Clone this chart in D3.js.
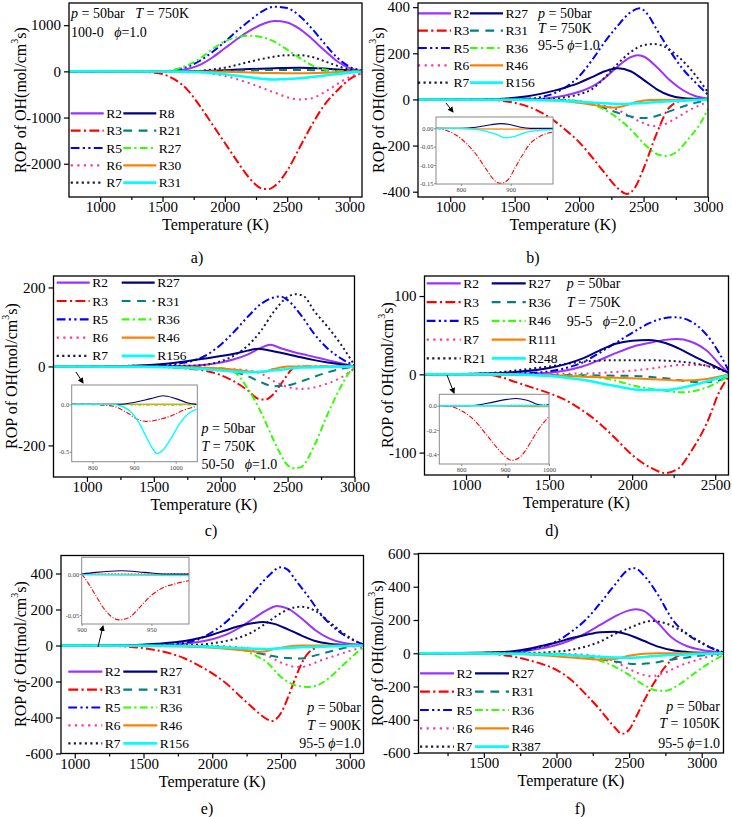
<!DOCTYPE html>
<html>
<head>
<meta charset="utf-8">
<script src="https://cdn.jsdelivr.net/npm/d3@7"></script>
<style>
  body { margin: 0; background: #fff; }
  svg { font-family: "Liberation Serif", "Times New Roman", Times, serif; }
</style>
</head>
<body>
<svg id="chart" width="732" height="817"></svg>
<script>
// ---- data: [temperature K, ROP] ----

// panel a) 100-0, phi=1.0, T=750K
const aLabels = ["R2", "R3", "R5", "R6", "R7", "R8", "R21", "R27", "R30", "R31"];
const aR2 = [[750,0],[1500,0],[1600,10],[1700,50],[1800,140],[1900,300],[2000,500],[2100,700],[2200,880],[2300,1020],[2400,1090],[2500,1060],[2600,920],[2700,700],[2800,450],[2900,220],[3000,70],[3100,15]];
const aR3 = [[750,0],[1300,-5],[1400,-20],[1500,-60],[1600,-180],[1700,-400],[1800,-750],[1900,-1150],[2000,-1550],[2100,-1950],[2200,-2320],[2300,-2540],[2350,-2550],[2400,-2480],[2500,-2150],[2600,-1650],[2700,-1150],[2800,-720],[2900,-420],[3000,-170],[3100,-40]];
const aR5 = [[750,0],[1500,0],[1600,30],[1700,100],[1800,230],[1900,420],[2000,640],[2100,880],[2200,1100],[2300,1300],[2400,1400],[2500,1370],[2600,1200],[2700,920],[2800,600],[2900,300],[3000,100],[3100,20]];
const aR6 = [[750,0],[1700,-5],[1800,-20],[1900,-50],[2000,-100],[2100,-170],[2200,-260],[2300,-360],[2400,-460],[2500,-560],[2600,-610],[2700,-580],[2800,-450],[2900,-280],[3000,-120],[3100,-40]];
const aR7 = [[750,0],[1700,3],[1800,10],[1900,40],[2000,80],[2100,140],[2200,210],[2300,270],[2400,320],[2500,350],[2600,350],[2700,310],[2800,220],[2900,120],[3000,40],[3100,10]];
const aR8 = [[750,0],[1700,5],[1900,15],[2000,25],[2200,50],[2400,70],[2600,80],[2800,60],[3000,20],[3100,5]];
const aR21 = [[750,0],[1800,3],[2000,10],[2200,20],[2400,30],[2600,30],[2800,20],[3000,5],[3100,0]];
const aR27 = [[750,0],[1500,0],[1600,40],[1700,130],[1800,280],[1900,480],[2000,650],[2100,740],[2200,770],[2300,740],[2400,640],[2500,470],[2600,290],[2700,130],[2800,40],[2900,10],[3000,0],[3100,0]];
const aR30 = [[750,0],[1800,-3],[2000,-10],[2200,-25],[2400,-38],[2600,-40],[2800,-30],[3000,-10],[3100,-3]];
const aR31 = [[750,0],[1500,-5],[1800,-20],[2000,-60],[2200,-130],[2400,-175],[2600,-150],[2800,-90],[3000,-30],[3100,-10]];

// panel b) 95-5, phi=1.0, T=750K
const bLabels = ["R2", "R3", "R5", "R6", "R7", "R27", "R31", "R36", "R46", "R156"];
const bR2 = [[750,0],[1700,2],[1800,8],[1900,18],[2000,33],[2100,55],[2200,93],[2300,143],[2400,183],[2450,192],[2500,186],[2600,142],[2700,85],[2800,42],[2900,15],[3000,4]];
const bR3 = [[750,0],[1250,0],[1400,-6],[1500,-15],[1600,-30],[1700,-55],[1800,-90],[1900,-135],[2000,-185],[2100,-250],[2200,-320],[2300,-385],[2370,-410],[2430,-385],[2500,-300],[2600,-150],[2700,-35],[2800,-5],[3000,0]];
const bR5 = [[750,0],[1600,3],[1700,10],[1800,25],[1900,55],[2000,100],[2100,170],[2200,250],[2300,320],[2400,378],[2470,395],[2530,370],[2600,305],[2700,215],[2800,135],[2900,75],[3000,20]];
const bR6 = [[750,0],[1800,-2],[2000,-8],[2100,-15],[2200,-28],[2300,-45],[2400,-75],[2500,-103],[2570,-115],[2650,-110],[2750,-82],[2850,-48],[2950,-22],[3000,-12]];
const bR7 = [[750,0],[1800,3],[1900,10],[2000,22],[2100,45],[2200,95],[2300,155],[2400,205],[2500,235],[2580,240],[2650,232],[2750,195],[2850,140],[2950,70],[3000,30]];
const bR27 = [[750,0],[1300,1],[1500,7],[1600,14],[1700,24],[1800,37],[1900,53],[2000,72],[2100,97],[2200,122],[2300,135],[2400,122],[2500,85],[2600,45],[2700,18],[2800,6],[3000,0]];
const bR31 = [[750,0],[1900,-3],[2000,-10],[2100,-20],[2200,-38],[2300,-58],[2400,-74],[2500,-81],[2600,-72],[2700,-52],[2800,-32],[2900,-15],[3000,-4]];
const bR36 = [[750,0],[1900,-3],[2000,-10],[2100,-22],[2200,-45],[2300,-82],[2400,-130],[2500,-190],[2600,-236],[2670,-245],[2750,-230],[2850,-170],[2950,-95],[3000,-40]];
const bR46 = [[750,0],[1700,-2],[1900,-8],[2000,-15],[2100,-23],[2200,-31],[2270,-35],[2350,-28],[2450,-10],[2550,-2],[3000,0]];
const bR156 = [[750,0],[1500,-1],[1800,-5],[2000,-10],[2200,-17],[2350,-20],[2500,-15],[2700,-8],[2900,-3],[3000,0]];
// inset b
const bInR3 = [[750,0],[770,-0.005],[790,-0.018],[810,-0.04],[830,-0.07],[850,-0.11],[870,-0.145],[880,-0.15],[895,-0.14],[910,-0.105],[925,-0.07],[940,-0.04],[955,-0.025],[970,-0.015],[985,-0.01]];
const bInR27 = [[750,0],[800,0],[830,0.003],[860,0.01],[880,0.013],[900,0.01],[920,0.003],[940,0],[985,0]];
const bInR156 = [[750,0],[800,0],[840,-0.005],[870,-0.016],[890,-0.026],[910,-0.021],[930,-0.011],[960,-0.005],[985,-0.003]];
const bInR46 = [[750,0],[800,-0.001],[900,-0.002],[985,-0.001]];

// panel c) 50-50, phi=1.0, T=750K
const cLabels = ["R2", "R3", "R5", "R6", "R7", "R27", "R31", "R36", "R46", "R156"];
const cR2 = [[750,0],[1700,1],[1900,5],[2000,10],[2100,18],[2200,30],[2300,47],[2370,55],[2450,46],[2550,36],[2650,28],[2750,20],[2850,12],[2950,4],[3000,0]];
const cR3 = [[750,0],[1500,-1],[1700,-4],[1900,-12],[2000,-22],[2100,-38],[2200,-60],[2280,-82],[2330,-84],[2400,-68],[2470,-35],[2540,-5],[2600,0],[3000,0]];
const cR5 = [[750,0],[1600,3],[1700,8],[1800,15],[1900,30],[2000,55],[2100,88],[2200,125],[2300,158],[2400,175],[2450,177],[2500,168],[2600,130],[2700,82],[2800,45],[2900,20],[3000,2]];
const cR6 = [[750,0],[1700,-1],[2000,-6],[2200,-10],[2300,-18],[2400,-38],[2500,-52],[2600,-57],[2700,-53],[2800,-43],[2900,-28],[3000,-5]];
const cR7 = [[750,0],[1800,2],[1900,5],[2000,13],[2100,28],[2200,52],[2300,90],[2400,140],[2500,176],[2560,183],[2620,178],[2700,140],[2800,100],[2900,55],[3000,3]];
const cR27 = [[750,0],[1300,1],[1500,4],[1700,11],[1900,21],[2100,32],[2200,40],[2280,45],[2400,38],[2500,31],[2600,23],[2700,16],[2800,10],[2900,5],[3000,0]];
const cR31 = [[750,0],[1800,-2],[2000,-8],[2100,-14],[2200,-24],[2300,-40],[2400,-50],[2500,-48],[2600,-38],[2700,-26],[2800,-15],[2900,-6],[3000,0]];
const cR36 = [[750,0],[2000,-4],[2100,-14],[2200,-55],[2300,-115],[2400,-190],[2500,-250],[2550,-258],[2600,-255],[2700,-200],[2800,-120],[2900,-50],[2950,-20],[3000,-3]];
const cR46 = [[750,0],[1300,0],[2000,-5],[2200,-12],[2300,-15],[2400,-6],[2500,0],[3000,0]];
const cR156 = [[750,0],[1400,-1],[1800,-5],[2000,-10],[2200,-15],[2400,-10],[2600,-3],[3000,0]];
// inset c
const cInR156 = [[750,0],[850,0],[870,-0.02],[890,-0.07],[910,-0.18],[930,-0.35],[945,-0.47],[955,-0.52],[970,-0.48],[990,-0.35],[1010,-0.2],[1030,-0.1],[1050,-0.05]];
const cInR3 = [[750,0],[800,-0.003],[850,-0.02],[880,-0.08],[910,-0.16],[930,-0.18],[960,-0.16],[990,-0.12],[1020,-0.06],[1050,-0.02]];
const cInR27 = [[750,0],[860,0],[900,0.02],[940,0.06],[970,0.09],[1000,0.06],[1030,0.015],[1050,0]];
const cInR36 = [[750,0],[870,-0.003],[950,-0.01],[1050,-0.005]];
const cInR46 = [[750,0],[1050,0.002]];

// panel d) 95-5, phi=2.0, T=750K
const dLabels = ["R2", "R3", "R5", "R7", "R21", "R27", "R36", "R46", "R111", "R248"];
const dR2 = [[750,0],[1400,1],[1600,5],[1700,10],[1800,18],[1900,27],[2000,35],[2100,40],[2200,44],[2270,45],[2350,42],[2450,30],[2530,12],[2580,2]];
const dR3 = [[750,0],[1100,0],[1200,-3],[1300,-10],[1400,-17],[1500,-24],[1600,-33],[1700,-46],[1800,-62],[1900,-82],[2000,-103],[2100,-118],[2200,-126],[2280,-120],[2350,-100],[2450,-62],[2530,-20],[2580,-3]];
const dR5 = [[750,0],[1400,2],[1600,8],[1700,15],[1800,27],[1900,40],[2000,53],[2100,65],[2200,72],[2260,73],[2350,68],[2450,50],[2530,25],[2580,5]];
const dR7 = [[750,0],[1700,1],[1900,3],[2100,7],[2200,10],[2300,12],[2400,12],[2500,9],[2580,5]];
const dR21 = [[750,0],[1100,1],[1300,5],[1500,10],[1700,16],[1900,18],[2100,18],[2300,16],[2400,13],[2500,8],[2580,2]];
const dR27 = [[750,0],[1100,1],[1300,3],[1500,8],[1600,13],[1700,20],[1800,30],[1900,39],[2000,43],[2100,44],[2200,40],[2300,31],[2400,20],[2500,10],[2580,2]];
const dR36 = [[750,0],[2000,-2],[2200,-5],[2400,-10],[2500,-9],[2580,-2]];
const dR46 = [[750,0],[1700,-2],[1900,-8],[2000,-14],[2100,-18],[2200,-21],[2300,-23],[2400,-20],[2500,-12],[2580,-2]];
const dR111 = [[750,0],[1400,-1],[1700,-3],[2000,-5],[2200,-7],[2300,-8],[2450,-6],[2580,0]];
const dR248 = [[750,0],[1200,0],[1500,-2],[1700,-7],[1900,-15],[2050,-20],[2200,-20],[2300,-17],[2400,-12],[2500,-6],[2580,-1]];
// inset d
const dInR3 = [[760,0],[780,-0.01],[800,-0.04],[830,-0.12],[860,-0.25],[890,-0.38],[915,-0.45],[935,-0.42],[955,-0.32],[975,-0.2],[1000,-0.09]];
const dInR27 = [[750,0],[820,0],[860,0.02],[900,0.05],[925,0.06],[950,0.045],[975,0.01],[990,0.002],[1000,0.01]];
const dInR111 = [[750,0],[850,0],[900,-0.005],[1000,-0.008]];
const dInR21 = [[750,0],[850,0.001],[1000,0.005]];
const dInR248 = [[750,0],[1000,0]];

// panel e) 95-5, phi=1.0, T=900K
const eLabels = ["R2", "R3", "R5", "R6", "R7", "R27", "R31", "R36", "R46", "R156"];
const eR2 = [[900,0],[1700,3],[1800,10],[1900,20],[2000,35],[2100,60],[2200,100],[2300,150],[2400,198],[2470,220],[2550,205],[2650,150],[2750,85],[2850,40],[2950,15],[3100,3]];
const eR3 = [[900,0],[1300,-3],[1500,-15],[1700,-45],[1800,-72],[1900,-110],[2000,-155],[2100,-210],[2200,-280],[2300,-350],[2400,-410],[2430,-420],[2500,-375],[2550,-290],[2600,-190],[2650,-100],[2700,-40],[2800,-5],[3100,0]];
const eR5 = [[900,0],[1700,5],[1800,15],[1900,35],[2000,75],[2100,130],[2200,210],[2300,295],[2400,380],[2500,435],[2550,420],[2600,370],[2700,270],[2800,165],[2900,90],[3000,40],[3100,5]];
const eR6 = [[900,0],[2000,-3],[2200,-10],[2300,-25],[2400,-55],[2500,-95],[2600,-118],[2650,-120],[2700,-110],[2800,-80],[2900,-55],[3000,-30],[3100,-10]];
const eR7 = [[900,0],[1900,5],[2000,12],[2100,25],[2200,45],[2300,78],[2400,128],[2500,180],[2600,212],[2650,215],[2750,192],[2850,132],[2950,70],[3050,22],[3100,5]];
const eR27 = [[900,0],[1400,2],[1600,10],[1800,25],[1900,40],[2000,60],[2100,85],[2200,108],[2300,125],[2370,130],[2450,120],[2550,90],[2650,55],[2750,25],[2850,10],[3000,2]];
const eR31 = [[900,0],[2000,-5],[2200,-20],[2350,-45],[2450,-60],[2550,-70],[2650,-72],[2750,-55],[2850,-35],[2950,-15],[3050,-3]];
const eR36 = [[900,0],[2000,-5],[2200,-20],[2300,-50],[2400,-95],[2500,-175],[2600,-220],[2700,-230],[2750,-225],[2850,-180],[2950,-110],[3050,-40],[3100,-10]];
const eR46 = [[900,0],[1800,-5],[2000,-12],[2200,-25],[2350,-35],[2450,-20],[2550,-5],[2650,0],[3100,0]];
const eR156 = [[900,0],[1700,-2],[2000,-8],[2300,-18],[2400,-20],[2500,-15],[2700,-8],[3000,-2],[3100,0]];
// inset e
const eInR3 = [[900,0],[905,-0.012],[910,-0.026],[915,-0.04],[920,-0.05],[927,-0.056],[935,-0.052],[942,-0.04],[950,-0.026],[958,-0.017],[967,-0.012],[977,-0.008]];
const eInR27 = [[900,0],[910,0.002],[928,0.004],[945,0.002],[960,0],[977,0]];
const eInR156 = [[900,-0.001],[977,-0.002]];
const eInR46 = [[900,0],[977,-0.0005]];
const eInR6 = [[900,0],[977,0.0005]];

// panel f) 95-5, phi=1.0, T=1050K
const fLabels = ["R2", "R3", "R5", "R6", "R7", "R27", "R31", "R36", "R46", "R387"];
const fR2 = [[1050,0],[1700,5],[1800,15],[1900,30],[2000,50],[2100,80],[2200,120],[2300,170],[2400,220],[2500,258],[2550,265],[2600,255],[2700,180],[2800,90],[2900,42],[3000,20],[3150,5]];
const fR3 = [[1050,0],[1500,-3],[1600,-8],[1700,-20],[1800,-40],[1900,-65],[2000,-100],[2100,-160],[2200,-245],[2300,-340],[2400,-445],[2450,-485],[2500,-460],[2550,-380],[2600,-290],[2700,-140],[2800,-35],[2900,-3],[3150,0]];
const fR5 = [[1050,0],[1600,3],[1800,20],[1900,40],[2000,72],[2100,128],[2200,200],[2300,300],[2400,410],[2500,505],[2540,512],[2600,470],[2700,350],[2800,200],[2900,115],[3000,60],[3100,20],[3150,5]];
const fR6 = [[1050,0],[2100,-5],[2300,-20],[2400,-50],[2500,-95],[2600,-130],[2650,-138],[2750,-115],[2850,-75],[2950,-45],[3050,-20],[3150,-5]];
const fR7 = [[1050,0],[1800,2],[2000,10],[2100,20],[2200,40],[2300,70],[2400,115],[2500,152],[2600,185],[2650,195],[2750,180],[2850,140],[2950,90],[3050,40],[3150,5]];
const fR27 = [[1050,0],[1500,3],[1700,12],[1800,25],[1900,45],[2000,65],[2100,90],[2200,110],[2300,127],[2400,130],[2500,110],[2600,75],[2700,40],[2800,18],[2900,8],[3000,3],[3150,0]];
const fR31 = [[1050,0],[2000,-5],[2200,-20],[2400,-50],[2550,-65],[2650,-60],[2750,-45],[2900,-25],[3050,-8],[3150,-2]];
const fR36 = [[1050,0],[2000,-3],[2100,-10],[2200,-25],[2300,-45],[2400,-80],[2500,-130],[2600,-190],[2700,-225],[2750,-225],[2850,-185],[2950,-120],[3050,-60],[3150,-10]];
const fR46 = [[1050,0],[1600,-2],[1900,-12],[2100,-25],[2300,-38],[2400,-35],[2500,-15],[2600,-3],[2700,0],[3150,0]];
const fR387 = [[1050,0],[1500,-2],[1800,-5],[2100,-12],[2400,-25],[2500,-27],[2700,-15],[3000,-4],[3150,0]];

// tick values
const xTicks = [1000, 1500, 2000, 2500, 3000];
const xMinor = [750, 1250, 1750, 2250, 2750];
const aYTicks = [1000, 0, -1000, -2000];
const bYTicks = [400, 200, 0, -200, -400];
const cYTicks = [200, 0, -200];
const dYTicks = [100, 0, -100];
const eYTicks = [400, 200, 0, -200, -400, -600];
const fYTicks = [600, 400, 200, 0, -200, -400, -600];

// line styles in legend order: column 1 rows 1-5, then column 2 rows 1-5
const styles = [
  { c: "#9933ff", dash: null, w: 2 },
  { c: "#ff0000", dash: "9,3,2,3", w: 2 },
  { c: "#0000ff", dash: "8,3,2,3,2,3", w: 2 },
  { c: "#ff3399", dash: "2,4", w: 2 },
  { c: "#1a1a44", dash: "2,3", w: 2 },
  { c: "#000080", dash: null, w: 2 },
  { c: "#008080", dash: "8,6", w: 2 },
  { c: "#33ff00", dash: "7,3,2,3", w: 2 },
  { c: "#ff8000", dash: null, w: 2 },
  { c: "#00ffff", dash: null, w: 2.5 }
];

const FONT = "Liberation Serif, Times New Roman, Times, serif";
const NB = "\u00a0";   // keeps the wide gaps in the notes
const svg = d3.select("#chart");
const defs = svg.append("defs");
defs.append("marker")
  .attr("id", "arrow")
  .attr("viewBox", "0 0 6 6")
  .attr("refX", 5).attr("refY", 3)
  .attr("markerWidth", 6).attr("markerHeight", 6)
  .attr("orient", "auto")
  .append("path").attr("d", "M0,0L6,3L0,6z").attr("fill", "#000");

function styleLine(sel, st, scale) {
  sel.attr("fill", "none")
    .attr("stroke", st.c)
    .attr("stroke-width", st.w * scale)
    .attr("stroke-dasharray", st.dash ? st.dash.split(",").map(v => v * scale).join(",") : null);
}

function drawPanel(p) {
  const g = svg.append("g").attr("class", "panel-" + p.id).attr("font-family", FONT);
  const x = d3.scaleLinear().domain(p.xd).range([p.x0, p.x1]);
  const y = d3.scaleLinear().domain(p.yd).range([p.y1, p.y0]);

  defs.append("clipPath").attr("id", "clip-" + p.id)
    .append("rect").attr("x", p.x0).attr("y", p.y0)
    .attr("width", p.x1 - p.x0).attr("height", p.y1 - p.y0);

  const line = d3.line().x(d => x(d[0])).y(d => y(d[1])).curve(d3.curveMonotoneX);
  const plot = g.append("g").attr("clip-path", "url(#clip-" + p.id + ")");
  p.series.forEach((s, i) => {
    plot.append("path").attr("d", line(s)).call(styleLine, styles[i], 1);
  });

  // inset
  if (p.inset) {
    const ins = p.inset;
    const ix = d3.scaleLinear().domain(ins.xd).range([ins.x0, ins.x1]);
    const iy = d3.scaleLinear().domain(ins.yd).range([ins.y1, ins.y0]);
    const ig = g.append("g");
    ig.append("rect").attr("x", ins.x0).attr("y", ins.y0)
      .attr("width", ins.x1 - ins.x0).attr("height", ins.y1 - ins.y0)
      .attr("fill", "#fff");
    defs.append("clipPath").attr("id", "iclip-" + p.id)
      .append("rect").attr("x", ins.x0).attr("y", ins.y0)
      .attr("width", ins.x1 - ins.x0).attr("height", ins.y1 - ins.y0);
    const il = d3.line().x(d => ix(d[0])).y(d => iy(d[1])).curve(d3.curveMonotoneX);
    const ip = ig.append("g").attr("clip-path", "url(#iclip-" + p.id + ")");
    ins.series.forEach(s => {
      ip.append("path").attr("d", il(s.d)).call(styleLine, styles[s.k], 0.55);
    });
    ig.append("rect").attr("x", ins.x0).attr("y", ins.y0)
      .attr("width", ins.x1 - ins.x0).attr("height", ins.y1 - ins.y0)
      .attr("fill", "none").attr("stroke", "#8a8a8a").attr("stroke-width", 1);
    const ixa = ig.append("g").attr("transform", `translate(0,${ins.y1})`)
      .call(d3.axisBottom(ix).tickValues(ins.xt).tickSize(2).tickSizeOuter(0).tickFormat(d => String(d)));
    const iya = ig.append("g").attr("transform", `translate(${ins.x0},0)`)
      .call(d3.axisLeft(iy).tickValues(ins.yt).tickSize(2).tickSizeOuter(0).tickFormat((d, i) => ins.ytl[i]));
    [ixa, iya].forEach(a => {
      a.select(".domain").remove();
      a.selectAll("line").attr("stroke", "#8a8a8a");
      a.selectAll("text").attr("font-size", 6.5).attr("fill", "#444").attr("font-family", FONT);
    });
    iya.selectAll("text").attr("x", -2.5);
    ixa.selectAll("text").attr("y", 3.5);
    g.append("line")
      .attr("x1", ins.arrow[0]).attr("y1", ins.arrow[1])
      .attr("x2", ins.arrow[2]).attr("y2", ins.arrow[3])
      .attr("stroke", "#000").attr("stroke-width", 1)
      .attr("marker-end", "url(#arrow)");
  }

  // legend
  const lg = g.append("g");
  p.labels.forEach((lab, i) => {
    const col = i < 5 ? 0 : 1;
    const row = i % 5;
    const ly = p.leg.y + row * p.leg.dy;
    const lx = p.leg.x[col];
    lg.append("line").attr("x1", lx).attr("x2", lx + p.leg.w)
      .attr("y1", ly).attr("y2", ly).call(styleLine, styles[i], 1.1);
    lg.append("text").attr("x", lx + p.leg.w + 2.5).attr("y", ly)
      .attr("dominant-baseline", "central")
      .attr("font-size", 13.5).text(lab);
  });

  // annotation
  const ag = g.append("g").attr("font-size", 14).attr("text-anchor", p.note.anchor);
  p.note.lines.forEach((ln, i) => {
    const t = ag.append("text").attr("x", p.note.x).attr("y", p.note.y[i])
      .attr("dominant-baseline", "central");
    ln.forEach(part => {
      t.append("tspan").attr("font-style", part[1] ? "italic" : null).text(part[0]);
    });
  });

  // frame
  g.append("rect").attr("x", p.x0).attr("y", p.y0)
    .attr("width", p.x1 - p.x0).attr("height", p.y1 - p.y0)
    .attr("fill", "none").attr("stroke", "#000").attr("stroke-width", 1.3);

  // axes
  const xa = g.append("g").attr("transform", `translate(0,${p.y1})`)
    .call(d3.axisBottom(x).tickValues(xTicks.filter(v => v >= p.xd[0] && v <= p.xd[1]))
      .tickSize(5).tickSizeOuter(0).tickFormat(d => String(d)));
  const xm = g.append("g").attr("transform", `translate(0,${p.y1})`)
    .call(d3.axisBottom(x).tickValues(xMinor.filter(v => v > p.xd[0] && v < p.xd[1]))
      .tickSize(3).tickSizeOuter(0).tickFormat(""));
  const ya = g.append("g").attr("transform", `translate(${p.x0},0)`)
    .call(d3.axisLeft(y).tickValues(p.yt).tickSize(5).tickSizeOuter(0).tickFormat(d => String(d)));
  [xa, xm, ya].forEach(a => {
    a.select(".domain").remove();
    a.selectAll("line").attr("stroke", "#000").attr("stroke-width", 1.2);
    a.selectAll("text").attr("font-size", 15).attr("fill", "#000").attr("font-family", FONT);
  });
  xa.selectAll("text").attr("y", 4.5);

  // axis titles
  g.append("text").attr("x", (p.x0 + p.x1) / 2).attr("y", p.y1 + 27.5)
    .attr("text-anchor", "middle").attr("dominant-baseline", "central")
    .attr("font-size", 16).text("Temperature (K)");
  const yt = g.append("text")
    .attr("transform", `translate(${p.yl[0]},${p.yl[1]}) rotate(-90)`)
    .attr("text-anchor", "middle").attr("dominant-baseline", "central")
    .attr("font-size", 16);
  yt.append("tspan").text("ROP of OH(mol/cm");
  yt.append("tspan").attr("font-size", 10).attr("dy", -6).text("3");
  yt.append("tspan").attr("dy", 6).text("s)");

  // panel label
  g.append("text").attr("x", p.tag[0]).attr("y", p.tag[1])
    .attr("text-anchor", "middle").attr("dominant-baseline", "central")
    .attr("font-size", 16).text(p.id + ")");
}

const phiNote = (mix, gap, phi) => [[mix + gap, false], ["\u03d5", true], ["=" + phi, false]];

drawPanel({
  id: "a", x0: 69, x1: 362, y0: 3, y1: 197, xd: [750, 3100], yd: [-2720, 1480], yt: aYTicks,
  series: [aR2, aR3, aR5, aR6, aR7, aR8, aR21, aR27, aR30, aR31], labels: aLabels,
  leg: { x: [70.7, 123.3], w: 33, y: 113.3, dy: 17.35 },
  note: { anchor: "start", x: 71, y: [12.7, 32.3],
    lines: [[["p", true], [" = 50bar" + NB + NB + NB, false], ["T", true], [" = 750K", false]],
      phiNote("100-0", NB + NB + NB, "1.0")] },
  yl: [20, 100], tag: [197, 257]
});

drawPanel({
  id: "b", x0: 418, x1: 708, y0: 3, y1: 197, xd: [750, 3000], yd: [-423, 418], yt: bYTicks,
  series: [bR2, bR3, bR5, bR6, bR7, bR27, bR31, bR36, bR46, bR156], labels: bLabels,
  leg: { x: [418, 470], w: 33, y: 13.3, dy: 17.35 },
  note: { anchor: "start", x: 538, y: [13.3, 27.8, 45],
    lines: [[["p", true], [" = 50bar", false]], [["T", true], [" = 750K", false]], phiNote("95-5", NB, "1.0")] },
  yl: [378, 100], tag: [533, 257],
  inset: { x0: 436, x1: 553, y0: 117, y1: 184, xd: [750, 985], yd: [-0.152, 0.031],
    xt: [800, 900], yt: [0, -0.05, -0.1, -0.15], ytl: ["0.00", "-0.05", "-0.10", "-0.15"],
    arrow: [446, 103, 453, 112],
    series: [{ k: 8, d: bInR46 }, { k: 5, d: bInR27 }, { k: 1, d: bInR3 }, { k: 9, d: bInR156 }] }
});

drawPanel({
  id: "c", x0: 53.5, x1: 354.5, y0: 276, y1: 477, xd: [750, 3000], yd: [-280, 229], yt: cYTicks,
  series: [cR2, cR3, cR5, cR6, cR7, cR27, cR31, cR36, cR46, cR156], labels: cLabels,
  leg: { x: [56.7, 121.7], w: 33, y: 282.7, dy: 18.3 },
  note: { anchor: "start", x: 201.5, y: [427.7, 445.7, 464.3],
    lines: [[["p", true], [" = 50bar", false]], [["T", true], [" = 750K", false]], phiNote("50-50", NB + NB + NB, "1.0")] },
  yl: [11, 376], tag: [211, 530],
  inset: { x0: 71.7, x1: 197.3, y0: 385, y1: 461.7, xd: [750, 1052], yd: [-0.605, 0.204],
    xt: [800, 900, 1000], yt: [0, -0.5], ytl: ["0.0", "-0.5"],
    arrow: [76, 372, 83, 383],
    series: [{ k: 8, d: cInR46 }, { k: 7, d: cInR36 }, { k: 5, d: cInR27 }, { k: 1, d: cInR3 }, { k: 9, d: cInR156 }] }
});

drawPanel({
  id: "d", x0: 424.5, x1: 728.5, y0: 276, y1: 475, xd: [750, 2580], yd: [-128.6, 125.6], yt: dYTicks,
  series: [dR2, dR3, dR5, dR7, dR21, dR27, dR36, dR46, dR111, dR248], labels: dLabels,
  leg: { x: [426.7, 491.7], w: 34, y: 283.3, dy: 18.75 },
  note: { anchor: "start", x: 566.7, y: [283.3, 301.7, 320.7],
    lines: [[["p", true], [" = 50bar", false]], [["T", true], [" = 750K", false]], phiNote("95-5", NB + NB + NB, "2.0")] },
  yl: [387, 375], tag: [552, 530],
  inset: { x0: 439.3, x1: 549, y0: 394.3, y1: 464, xd: [750, 1000], yd: [-0.48, 0.094],
    xt: [800, 900, 1000], yt: [0, -0.2, -0.4], ytl: ["0.0", "-0.2", "-0.4"],
    arrow: [447, 375, 454, 393],
    series: [{ k: 4, d: dInR21 }, { k: 8, d: dInR111 }, { k: 5, d: dInR27 }, { k: 1, d: dInR3 }, { k: 9, d: dInR248 }] }
});

drawPanel({
  id: "e", x0: 61, x1: 363.5, y0: 555.5, y1: 753.5, xd: [900, 3100], yd: [-600, 500], yt: eYTicks,
  series: [eR2, eR3, eR5, eR6, eR7, eR27, eR31, eR36, eR46, eR156], labels: eLabels,
  leg: { x: [68.3, 123.3], w: 34, y: 671.7, dy: 17.9 },
  note: { anchor: "end", x: 361, y: [706.7, 725, 743.3],
    lines: [[["p", true], [" = 50bar", false]], [["T", true], [" = 900K", false]], phiNote("95-5", NB, "1.0")] },
  yl: [20, 654], tag: [207, 808],
  inset: { x0: 81.7, x1: 189, y0: 557.3, y1: 624, xd: [900, 977], yd: [-0.061, 0.0204],
    xt: [900, 950], yt: [0, -0.05], ytl: ["0.00", "-0.05"],
    arrow: [98, 647, 103, 626],
    series: [{ k: 3, d: eInR6 }, { k: 8, d: eInR46 }, { k: 5, d: eInR27 }, { k: 1, d: eInR3 }, { k: 9, d: eInR156 }] }
});

drawPanel({
  id: "f", x0: 418.5, x1: 723.5, y0: 553.5, y1: 753, xd: [1050, 3150], yd: [-600, 600], yt: fYTicks,
  series: [fR2, fR3, fR5, fR6, fR7, fR27, fR31, fR36, fR46, fR387], labels: fLabels,
  leg: { x: [420, 475], w: 34, y: 673.3, dy: 18.35 },
  note: { anchor: "end", x: 720, y: [705.7, 723.3, 742.7],
    lines: [[["p", true], [" = 50bar", false]], [["T", true], [" = 1050K", false]], phiNote("95-5", NB, "1.0")] },
  yl: [377, 653], tag: [580, 808]
});
</script>
</body>
</html>
